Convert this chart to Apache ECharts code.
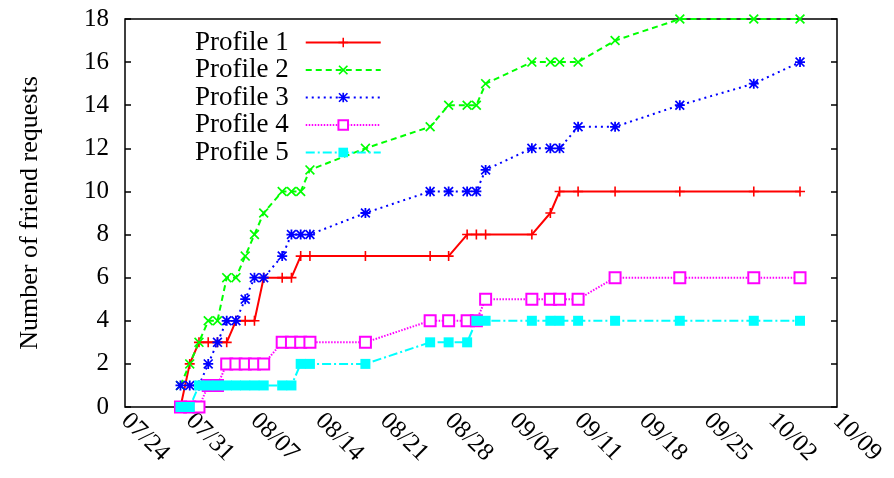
<!DOCTYPE html>
<html>
<head>
<meta charset="utf-8">
<script src="https://cdn.jsdelivr.net/npm/echarts@6/dist/echarts.min.js"></script>
<style>
  html, body { margin: 0; padding: 0; background: #fff; }
  #chart { width: 894px; height: 478px; }
</style>
</head>
<body>
<div id="chart"></div>
<script>
// sample dates (MM/DD), shared by all five profiles
const dates = ['07/30', '07/31', '08/01', '08/02', '08/03', '08/04', '08/05', '08/06', '08/07', '08/08',
  '08/10', '08/11', '08/12', '08/13', '08/19', '08/26', '08/28', '08/30', '08/31', '09/01',
  '09/06', '09/08', '09/09', '09/11', '09/15', '09/22', '09/30', '10/05'];

const profile1 = [0, 2, 3, 3, 3, 3, 4, 4, 4, 6, 6, 6, 7, 7, 7, 7, 7, 8, 8, 8, 8, 9, 10, 10, 10, 10, 10, 10];
const profile2 = [1, 2, 3, 4, 4, 6, 6, 7, 8, 9, 10, 10, 10, 11, 12, 13, 14, 14, 14, 15, 16, 16, 16, 16, 17, 18, 18, 18];
const profile3 = [1, 1, 1, 2, 3, 4, 4, 5, 6, 6, 7, 8, 8, 8, 9, 10, 10, 10, 10, 11, 12, 12, 12, 13, 13, 14, 15, 16];
const profile4 = [0, 0, 0, 1, 1, 2, 2, 2, 2, 2, 3, 3, 3, 3, 3, 4, 4, 4, 4, 5, 5, 5, 5, 5, 6, 6, 6, 6];
const profile5 = [0, 0, 1, 1, 1, 1, 1, 1, 1, 1, 1, 1, 2, 2, 2, 3, 3, 3, 4, 4, 4, 4, 4, 4, 4, 4, 4, 4];

// x axis: 07/24 .. 10/09, one tick per week
const axisStart = '07/24';
const axisWeeks = 11;

const year = 2010;
const DAY = 86400000;
function toUtc(s) {
  const p = s.split('/').map(Number);
  return Date.UTC(year, p[0] - 1, p[1]);
}
const t0 = toUtc(axisStart);
function dayOffset(s) {
  return Math.round((toUtc(s) - t0) / DAY);
}
function pad(n) {
  return (n < 10 ? '0' : '') + n;
}
function dayLabel(v) {
  const d = new Date(t0 + v * DAY);
  return pad(d.getUTCMonth() + 1) + '/' + pad(d.getUTCDate());
}
function pairs(vals) {
  return vals.map((v, i) => [dayOffset(dates[i]), v]);
}

// gnuplot-like point types
const plusSym = 'path://M4.2,0h1.6v4.2h4.2v1.6h-4.2v4.2h-1.6v-4.2h-4.2v-1.6h4.2z';
const crossSym = 'path://M0,1.2L1.2,0L5,3.8L8.8,0L10,1.2L6.2,5L10,8.8L8.8,10L5,6.2L1.2,10L0,8.8L3.8,5Z';
const starSym = 'path://M4.1,0h1.8v10h-1.8z M0,4.1h10v1.8h-10z M0,1.2L1.2,0L10,8.8L8.8,10z M8.8,0L10,1.2L1.2,10L0,8.8z';

const font = 'Liberation Serif';

let myChart = echarts.init(document.getElementById('chart'));

let option = {
  animation: false,
  backgroundColor: '#fff',
  grid: {
    left: 125,
    right: 57,
    top: 19,
    bottom: 71,
    show: true,
    borderColor: '#000',
    borderWidth: 1.5,
    backgroundColor: 'transparent'
  },
  legend: {
    orient: 'vertical',
    left: 190,
    top: 24,
    align: 'right',
    itemWidth: 75,
    itemHeight: 12,
    itemGap: 0.5,
    textStyle: {
      fontFamily: font,
      fontSize: 27,
      color: '#000',
      padding: [0, 12, 0, 0]
    },
    data: ['Profile 1', 'Profile 2', 'Profile 3', 'Profile 4', 'Profile 5']
  },
  xAxis: {
    type: 'value',
    min: 0,
    max: axisWeeks * 7,
    interval: 7,
    axisLine: { show: false },
    axisTick: { show: false },
    splitLine: { show: false },
    axisLabel: {
      rotate: -45,
      margin: 10,
      fontFamily: font,
      fontSize: 25,
      color: '#000',
      formatter: dayLabel
    }
  },
  yAxis: [{
    type: 'value',
    min: 0,
    max: 18,
    interval: 2,
    name: 'Number of friend requests',
    nameLocation: 'middle',
    nameGap: 82,
    nameTextStyle: { fontFamily: font, fontSize: 26, color: '#000' },
    axisLine: { show: false },
    axisTick: { show: true, inside: true, length: 6, lineStyle: { color: '#000', width: 1.5 } },
    splitLine: { show: false },
    axisLabel: { fontFamily: font, fontSize: 25, color: '#000', margin: 16 }
  }, {
    type: 'value',
    position: 'right',
    min: 0,
    max: 18,
    interval: 2,
    axisLine: { show: false },
    axisTick: { show: true, inside: true, length: 6, lineStyle: { color: '#000', width: 1.5 } },
    splitLine: { show: false },
    axisLabel: { show: false }
  }],
  series: [
    {
      name: 'Profile 1',
      type: 'line',
      data: pairs(profile1),
      symbol: plusSym,
      symbolSize: 10,
      itemStyle: { color: '#ff0000' },
      lineStyle: { color: '#ff0000', width: 2, type: 'solid' }
    },
    {
      name: 'Profile 2',
      type: 'line',
      data: pairs(profile2),
      symbol: crossSym,
      symbolSize: 10,
      itemStyle: { color: '#00ff00' },
      lineStyle: { color: '#00ff00', width: 2, type: [6, 4] }
    },
    {
      name: 'Profile 3',
      type: 'line',
      data: pairs(profile3),
      symbol: starSym,
      symbolSize: 10,
      itemStyle: { color: '#0000ff' },
      lineStyle: { color: '#0000ff', width: 2, type: [2, 4] }
    },
    {
      name: 'Profile 4',
      type: 'line',
      data: pairs(profile4),
      symbol: 'emptyRect',
      symbolSize: 11,
      itemStyle: { color: '#ff00ff', borderColor: '#ff00ff', borderWidth: 1.8 },
      lineStyle: { color: '#ff00ff', width: 2, type: [1.5, 1.5] }
    },
    {
      name: 'Profile 5',
      type: 'line',
      data: pairs(profile5),
      symbol: 'rect',
      symbolSize: 10,
      itemStyle: { color: '#00ffff' },
      lineStyle: { color: '#00ffff', width: 2, type: [9, 3, 2, 3] }
    }
  ]
};

myChart.setOption(option);
</script>
</body>
</html>
